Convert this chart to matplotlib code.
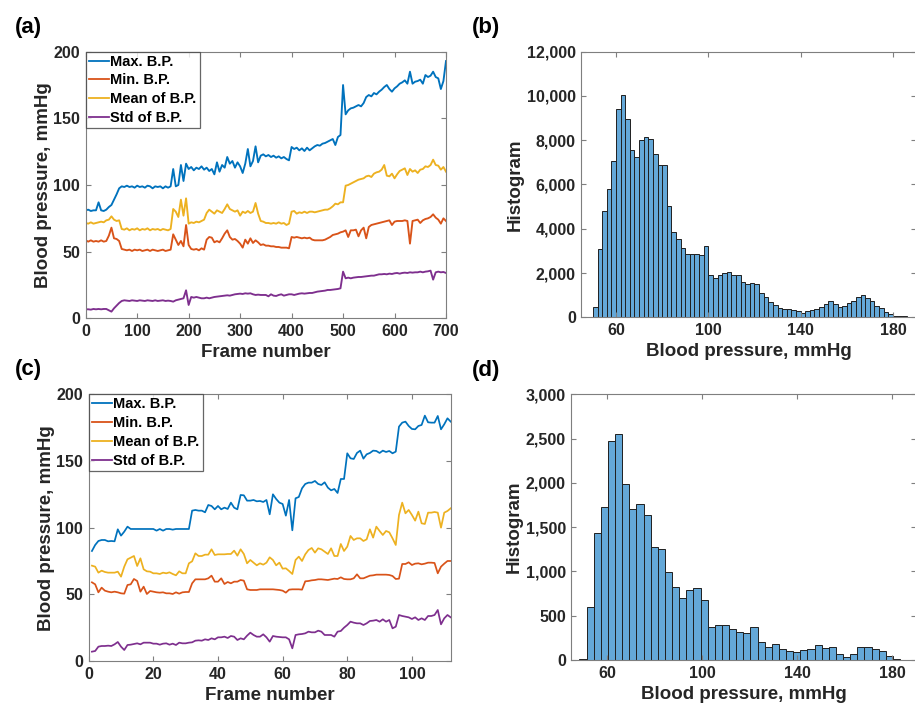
import numpy as np
import matplotlib
matplotlib.use("Agg")
import matplotlib.pyplot as plt
from matplotlib.ticker import FuncFormatter

plt.rcParams['font.family'] = ['Liberation Sans', 'DejaVu Sans']
plt.rcParams['font.weight'] = 'bold'
plt.rcParams['axes.labelweight'] = 'bold'

# ---------------- data ----------------
series_labels = ["Max. B.P.", "Min. B.P.", "Mean of B.P.", "Std of B.P."]
series_colors = ["#0072BD", "#D95319", "#EDB120", "#7E2F8E"]

# panel (a): one value every 5 frames, frames 0..700
a_frames = list(range(0, 701, 5))
a_max = [81, 81.5, 80.5, 81, 81, 87, 81, 80.5, 81.5, 83.5,
         85, 89, 93, 97.5, 99, 98.5, 99.5, 98.5, 99, 98,
         99.5, 98.5, 99, 98, 99.5, 99, 97.5, 99, 98.5, 99,
         97.5, 99, 98, 99, 112, 99, 100, 115, 103, 116,
         112, 113.5, 111, 113, 112, 114, 111.5, 113, 110.5, 112,
         108, 117, 110, 115, 113, 121, 116, 118, 113, 117,
         114, 109, 116, 127, 114, 118, 129, 117, 122, 123,
         121.5, 122.5, 121, 122, 120.5, 121.5, 120, 121, 119.5, 118.5,
         128.5, 127, 128, 126, 127.5, 125.5, 128, 126, 127.5, 129,
         130, 129.5, 131, 131.5, 132.5, 133.5, 134.5, 130, 136, 137.5,
         175, 153, 156, 157.5, 158, 159, 160, 159, 161.5, 166,
         167.5, 166.5, 169, 168, 170, 171.5, 173.5, 175, 172, 170,
         172.5, 174, 176, 177, 178.5, 176, 185, 176, 177.5, 178,
         179, 176, 182.5, 181, 182, 185, 181, 180, 172, 178,
         193]
a_min = [58.5, 57.5, 58.5, 57.5, 58, 57.5, 58.5, 57.5, 58, 62,
         68, 60, 59.5, 58, 52, 51.5, 51, 51.5, 50.5, 51.5,
         51, 51.5, 50.5, 51, 51.5, 50.5, 51.5, 51, 50.5, 51,
         51.5, 50.5, 51, 51.5, 63, 59, 55, 58, 54, 70,
         55, 52, 51.5, 52, 51, 52.5, 51.5, 59, 61, 60.5,
         57, 58, 57, 60, 63.5, 66, 61, 59, 59.5, 58,
         56, 53, 59, 56, 60, 56.5, 58.5, 57, 55, 55.5,
         54.5, 54.5, 54, 54, 53.5, 53.5, 53, 53, 53, 52.5,
         61, 60.5, 61, 60.5, 60, 60.5, 60, 60.5, 59, 58.5,
         58.5, 58.5, 58.5, 59, 60, 61, 62.5, 63, 63.5, 64.5,
         65, 66, 61, 66, 66, 66.5, 61.5, 66, 68, 60,
         68.5, 70, 70.5, 71, 71.5, 72, 72.5, 73, 73.5, 70,
         72.5, 73, 73, 73, 73.5, 73, 56, 73, 73.5, 74,
         71.5, 73.5, 74.5, 75, 76, 78, 75.5, 74, 71, 75,
         73]
a_mean = [71.5, 71, 72, 71, 71.5, 72, 72.5, 72, 73.5, 74,
          76.5, 74, 73, 73.5, 67, 66.5, 67.5, 66, 67, 66.5,
          67.5, 66, 67, 66.5, 67.5, 66, 67, 66.5, 67, 66,
          67, 66.5, 66, 67, 82, 80, 76, 89, 77, 90,
          71, 72, 71.5, 72.5, 72, 73, 74, 79, 81.5, 80,
          78.5, 81, 80, 79, 82, 85.5, 82, 81, 80, 81,
          77, 80, 79, 80.5, 79, 80, 86.5, 78.5, 73, 72.5,
          71.5, 71.5, 71, 71.5, 71, 72, 71, 71.5, 70, 71,
          80, 80.5, 78.5, 79.5, 79, 80, 79, 80, 80, 79.5,
          80, 80.5, 81, 81.5, 81.5, 82.5, 84, 86, 85.5, 87,
          87, 99.5, 100, 101, 102, 103, 104, 104.5, 105, 106.5,
          107, 106, 108.5, 109.5, 110, 111.5, 115, 107, 106.5, 108.5,
          105, 108, 110.5, 111.5, 112.5, 107.5, 112, 110, 111, 109,
          111.5, 112, 114, 113.5, 115, 119, 115, 114.5, 111.5, 113.5,
          110]
a_std = [6.75, 6.75, 6.5, 7, 6.75, 7, 6.75, 7, 7, 6,
         5, 7.5, 9.5, 11.5, 13, 13.5, 13.25, 13, 13.5, 13.25,
         13, 13.5, 13.25, 13, 13.5, 13.25, 13, 13.5, 13, 13.25,
         13.5, 13, 13.25, 13, 12.5, 13.5, 14, 14.5, 15, 21,
         10, 16, 15.5, 16, 15.5, 15, 15, 15.5, 15, 15.5,
         16, 16.25, 16.5, 16.75, 17, 17.25, 17, 17.5, 18, 18.25,
         18.5, 18.25, 18.75, 18.5, 18.75, 18, 17.5, 17.75, 17.5, 17.5,
         17.5, 16.5, 18, 17, 16.75, 17.5, 18, 17, 17.5, 18,
         18, 17.5, 18, 18.5, 18.75, 18.5, 18.75, 19, 19, 19.5,
         20, 20.25, 20.5, 20.75, 21.25, 21.25, 21.5, 21.75, 22, 22.5,
         35, 30, 30.5, 30, 30.5, 30.75, 31, 31, 31.25, 31.5,
         31.75, 32, 32, 32.5, 33, 33, 33.25, 33, 33.5, 33.25,
         33.75, 34, 33.5, 34, 34.25, 34, 34.5, 34.25, 34.5, 34.5,
         35, 34.5, 35, 35.25, 35.75, 29, 34.5, 35, 34.5, 34.75,
         34]

# panel (c): frames 1..112
c_frames = list(range(1, 113))
c_max = [82.5, 87, 90, 90.75, 90.75, 89.75, 90, 89.75, 98.75, 94,
         97, 100.75, 99, 99, 99, 99, 99, 99, 99, 99,
         97.75, 99, 97.75, 99, 99, 98.5, 99, 99, 99, 99,
         99, 112.75, 113.25, 112.75, 112.75, 111.5, 117, 116.25, 113.75, 116.25,
         113.75, 115, 114, 118.75, 115, 113.75, 124.5, 124.25, 120.25, 120.25,
         120.75, 119.75, 120, 119.25, 120.75, 110, 125, 121.5, 118.75, 117.75,
         109, 120.75, 98, 122, 123, 129.5, 132.75, 133.75, 133.75, 135,
         132.75, 132, 134, 130, 128, 129, 126, 136.5, 136.5, 155.75,
         152, 151.5, 156, 157.75, 151.75, 155, 156, 157.75, 157.5, 156,
         157.75, 156.75, 157.5, 155.75, 157, 175.75, 178.75, 179.5, 176.25, 174,
         173.75, 176.25, 177, 184, 179, 178.75, 178.75, 183.75, 173.75, 177.5,
         182, 179.5]
c_min = [59, 57.5, 51.5, 55, 52.75, 52, 51.5, 52, 51.5, 50.75,
         50.5, 57, 57.5, 61.5, 60, 52, 55.75, 50.25, 52.5, 52,
         51.5, 51.25, 51.5, 50.75, 50.75, 50.25, 51.5, 50.5, 51.5, 51.75,
         51.75, 58.25, 61.25, 61.25, 61.25, 61.25, 62, 64, 59.5, 59.5,
         62, 57.75, 59.25, 58.25, 59.5, 59.5, 60.75, 60.25, 53.75, 53.25,
         53.25, 53.25, 53.75, 53.75, 53.75, 53.75, 53.75, 53.5, 53.25, 52.75,
         51.25, 53.5, 53.75, 53.75, 53.75, 53.5, 59.75, 60, 60.5, 60.75,
         61.25, 61.25, 61, 60.75, 61.25, 61.75, 61.5, 62.75, 61.5, 61.25,
         61.25, 62, 65, 62, 62, 63, 64, 64.25, 64.75, 64.75,
         64.75, 64.75, 64.5, 63.75, 61.5, 61.75, 72.75, 72.75, 74, 72,
         73, 73.25, 72.5, 73, 73.75, 73.75, 73.5, 65.75, 70.75, 73,
         75, 75]
c_mean = [71.5, 70.75, 66.25, 67.75, 66.75, 66.25, 66.25, 66.25, 67, 63.25,
          70.75, 76.25, 77.5, 78.75, 71.25, 77, 68.75, 67.25, 67, 65.75,
          65.75, 65.25, 66.25, 65.75, 66.5, 65.25, 64.25, 67.25, 65.75, 65.75,
          73.25, 74.75, 80.75, 78.75, 78.75, 79.75, 79.75, 83.75, 79.5, 80,
          80, 80, 80.25, 80.25, 82.75, 79, 83.75, 80.25, 73.25, 75.75,
          73.75, 71.75, 73.25, 72.25, 73.75, 77.75, 75.75, 71.75, 73.75, 69.25,
          69.5, 67.5, 65.25, 75.75, 78.25, 75, 80, 83.25, 84.75, 81.25,
          84.5, 83.75, 82, 80.25, 84.5, 78.75, 78.75, 87.75, 82.5, 85.75,
          93.75, 90.75, 92, 92, 90, 91.25, 98.75, 92.5, 100.75, 97.5,
          94.5, 97.5, 96.5, 92, 87, 109.5, 118.75, 110.75, 113.25, 109.5,
          105.25, 112, 103.25, 102.75, 111.25, 111.25, 111.75, 111.25, 100, 111.25,
          112.5, 114.5]
c_std = [7, 7.5, 10.75, 11.25, 11.25, 11.5, 11.25, 12.5, 14.25, 10.75,
         8.25, 12, 12.25, 12.75, 13.25, 12.5, 13.75, 13.75, 13.75, 13,
         13, 12.25, 13, 13.25, 12.25, 13, 12, 13.75, 13.25, 13.25,
         13.75, 14, 15.25, 15.5, 15.25, 16.25, 15.75, 17, 16.25, 17.75,
         17.75, 18.25, 17.25, 18.75, 18.25, 15.75, 17, 16.25, 19, 21.25,
         19.5, 18.25, 18.25, 20, 17.75, 14.5, 18.75, 18.25, 18, 17.75,
         17.75, 16.25, 9.5, 19.5, 20, 20.25, 20.75, 22, 21.5, 21.5,
         22.75, 22, 19.5, 19.5, 19.5, 18.25, 22, 22.5, 25, 27,
         29.5, 28.75, 28.25, 28.25, 27, 28.25, 30, 30.25, 30.75, 29.5,
         31.25, 29.5, 30.75, 24.5, 25.75, 34.5, 33.75, 33.25, 32.75, 31.5,
         32.75, 30.75, 32, 30.75, 33.75, 33.75, 34.5, 38.25, 27.5, 32,
         34.5, 32.75]

# panel (b): histogram, bin width 2 starting at 50
b_bin_start = 50
b_bin_width = 2
b_counts = [480, 3080, 4800, 5810, 7060, 9390, 10050, 8940, 7540, 7240,
            8000, 8140, 8060, 7360, 6860, 6900, 5040, 3870, 3520, 3110,
            2860, 2860, 2880, 2830, 3220, 1900, 1790, 1900, 2000, 2060,
            1900, 1900, 1590, 1500, 1530, 1490, 1080, 900, 690, 540,
            435, 375, 370, 315, 270, 210, 270, 330, 375, 450,
            600, 720, 615, 465, 525, 630, 750, 915, 990, 855,
            720, 510, 405, 225, 165, 75, 45, 40, 20, 15]

# panel (d): histogram, bin width 3 starting at 48.4
d_bin_start = 48.4
d_bin_width = 3
d_counts = [10, 600, 1430, 1724, 2472, 2555, 1983, 1705, 1764, 1640,
            1272, 1250, 990, 820, 703, 790, 813, 674, 373, 395,
            399, 354, 312, 303, 376, 207, 150, 177, 124, 98,
            87, 110, 120, 173, 132, 143, 64, 38, 64, 143,
            147, 120, 102, 45, 11, 3]

hist_xticks = [60, 100, 140, 180]

# ---------------- figure ----------------
W, H = 915, 711
fig = plt.figure(figsize=(W / 100, H / 100), dpi=100)


def px_axes(left, top, right, bottom):
    return fig.add_axes([left / W, 1 - bottom / H, (right - left) / W, (bottom - top) / H])


SPINE = "#7f7f7f"
TXT = "#262626"


def style(ax):
    for s in ax.spines.values():
        s.set_color(SPINE)
        s.set_linewidth(0.8)
    ax.tick_params(direction="in", top=True, right=True, length=3.5, width=0.8,
                   color=SPINE, labelsize=11.5, labelcolor=TXT, pad=4)


def line_panel(ax, frames, ys, xlim, xticks, lw):
    for y, lab, col in zip(ys, series_labels, series_colors):
        ax.plot(frames, y, color=col, lw=lw, label=lab)
    ax.set_xlim(*xlim)
    ax.set_ylim(0, 200)
    ax.set_xticks(xticks)
    ax.set_yticks([0, 50, 100, 150, 200])
    style(ax)
    ax.set_xlabel("Frame number", fontsize=13.5, color=TXT, labelpad=4)
    ax.set_ylabel("Blood pressure, mmHg", fontsize=13.5, color=TXT, labelpad=1)
    leg = ax.legend(loc="upper left", fontsize=10.5, frameon=True, fancybox=False,
                    borderaxespad=0, borderpad=0.2, handlelength=1.4,
                    handletextpad=0.1, labelspacing=0.33)
    leg.get_frame().set_edgecolor("#404040")
    leg.get_frame().set_linewidth(0.9)
    for line in leg.get_lines():
        line.set_linewidth(1.3)
    for t in leg.get_texts():
        t.set_color("black")


def hist_panel(ax, start, width, counts, ylim, yticks):
    lefts = [start + i * width for i in range(len(counts))]
    ax.bar(lefts, counts, width=width, align="edge", color="#64A8D8",
           edgecolor="#1f1f1f", linewidth=0.7)
    ax.set_xlim(45, 190)
    ax.set_ylim(*ylim)
    ax.set_xticks(hist_xticks)
    ax.set_yticks(yticks)
    ax.yaxis.set_major_formatter(FuncFormatter(lambda v, p: f"{int(v):,}"))
    style(ax)
    ax.set_xlabel("Blood pressure, mmHg", fontsize=13.5, color=TXT, labelpad=4)
    ax.set_ylabel("Histogram", fontsize=13.5, color=TXT, labelpad=2)


ax_a = px_axes(85.7, 51.7, 446, 318.3)
line_panel(ax_a, a_frames, [a_max, a_min, a_mean, a_std], (0, 700), range(0, 701, 100), 1.35)

ax_c = px_axes(88.7, 394.3, 450.7, 661)
line_panel(ax_c, c_frames, [c_max, c_min, c_mean, c_std], (0, 112), range(0, 101, 20), 1.25)

ax_b = px_axes(581.4, 51.7, 916, 317.3)
hist_panel(ax_b, b_bin_start, b_bin_width, b_counts, (0, 12000), range(0, 12001, 2000))

ax_d = px_axes(571.4, 394.3, 915.75, 660)
hist_panel(ax_d, d_bin_start, d_bin_width, d_counts, (0, 3000), range(0, 3001, 500))

for lab, x, y in [("(a)", 15, 28), ("(b)", 472, 28), ("(c)", 15, 369), ("(d)", 472, 370)]:
    fig.text(x / W, 1 - y / H, lab, fontsize=16, fontweight="bold", color="black",
             ha="left", va="center")

fig.savefig("out.png", dpi=100)
